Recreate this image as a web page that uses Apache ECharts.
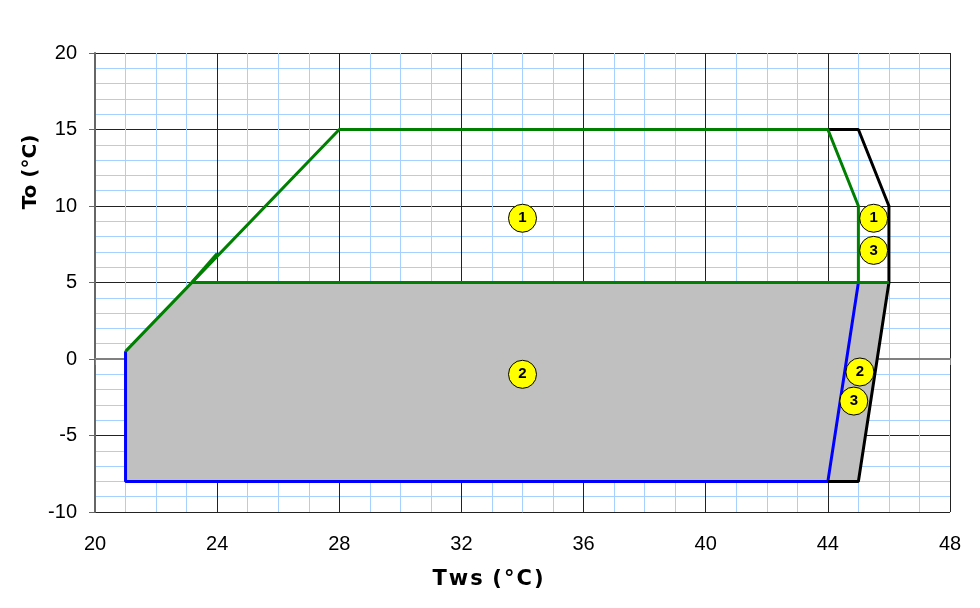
<!DOCTYPE html>
<html><head><meta charset="utf-8">
<script src="https://cdn.jsdelivr.net/npm/echarts@6/dist/echarts.min.js"></script>
<style>html,body{margin:0;padding:0;background:#fff}#c{width:980px;height:608px}</style>
</head><body><div id="c"></div>
<script>
// Data (Tws °C, To °C)
var grayArea = [[21,0.5],[23.17,5],[46,5],[45,-8],[21,-8]];
var greenEnvelope = [[21,0.5],[28,15],[44,15],[45,10],[45,5]];
var greenFloor = [[23.17,5],[46,5]];
var greenExtra = [[23.17,5],[24,6.9]];
var blackEnvelope = [[44,15],[45,15],[46,10],[46,5],[45,-8],[44,-8]];
var blueEnvelope = [[21,0.5],[21,-8],[44,-8],[45,5]];
var markers = [[34,9.2,'1'],[34,-1,'2'],[45.5,9.2,'1'],[45.5,7.1,'3'],[45.05,-0.85,'2'],[44.85,-2.75,'3']];
var xTicks = [20,24,28,32,36,40,44,48];
var yTicks = [-10,-5,0,5,10,15,20];

var chart = echarts.init(document.getElementById('c'));
var font = '"Liberation Sans", Arial, sans-serif';
var hs = '\u200A';
chart.setOption({
  animation:false,
  grid:{left:95,right:30,top:53,bottom:96},
  xAxis:{type:'value',min:xTicks[0],max:xTicks[xTicks.length-1],interval:4,
    axisLine:{show:true,lineStyle:{color:'#808080',width:2}},
    axisTick:{show:true,length:6,lineStyle:{color:'#808080',width:1}},
    minorTick:{show:false,splitNumber:4},
    minorSplitLine:{show:true,lineStyle:{color:'#a6d0ff',width:1}},
    splitLine:{show:true,lineStyle:{color:'#222',width:1}},
    axisLabel:{color:'#000',fontSize:20,fontFamily:font,margin:22}},
  yAxis:{type:'value',min:yTicks[0],max:yTicks[yTicks.length-1],interval:5,
    axisLine:{show:true,lineStyle:{color:'#666',width:2}},
    axisTick:{show:true,length:6,lineStyle:{color:'#666',width:1}},
    minorTick:{show:false,splitNumber:5},
    minorSplitLine:{show:true,lineStyle:{color:'#a6d0ff',width:1}},
    splitLine:{show:true,lineStyle:{color:'#222',width:1}},
    axisLabel:{color:'#000',fontSize:20,fontFamily:font,margin:18}},
  graphic:[
    {type:'text',x:488,y:580,style:{text:'T'+hs+'w'+hs+'s'+hs+' ('+hs+'°'+hs+'C'+hs+')',font:'bold 21px "DejaVu Sans", sans-serif',fill:'#000',textAlign:'center',textVerticalAlign:'middle'}},
    {type:'text',x:31,y:172,rotation:Math.PI/2,style:{text:'To (°C)',font:'bold 20px "DejaVu Sans", sans-serif',fill:'#000',textAlign:'center',textVerticalAlign:'middle'}}
  ],
  series:[
    {type:'custom',z:1,data:[0],renderItem:function(params,api){
      var pts = grayArea.map(function(p){return api.coord(p);});
      return {type:'polygon',shape:{points:pts},style:{fill:'#c0c0c0',stroke:null}};
    }},
    {type:'line',z:3,data:blueEnvelope,showSymbol:false,lineStyle:{color:'#0000ff',width:3}},
    {type:'line',z:3,data:blackEnvelope,showSymbol:false,lineStyle:{color:'#000',width:3}},
    {type:'line',z:4,data:greenEnvelope,showSymbol:false,lineStyle:{color:'#008000',width:3}},
    {type:'line',z:4,data:greenFloor,showSymbol:false,lineStyle:{color:'#008000',width:3}},
    {type:'line',z:4,data:greenExtra,showSymbol:false,lineStyle:{color:'#008000',width:3}},
    {type:'scatter',z:6,data:markers.map(function(m){return {value:[m[0],m[1]],name:m[2]};}),
      symbol:'circle',symbolSize:28,
      itemStyle:{color:'#ffff00',borderColor:'#000',borderWidth:1,opacity:1},
      label:{show:true,position:'inside',formatter:function(p){return p.name;},color:'#000',fontWeight:'bold',fontSize:15,fontFamily:font}}
  ]
});
</script></body></html>
